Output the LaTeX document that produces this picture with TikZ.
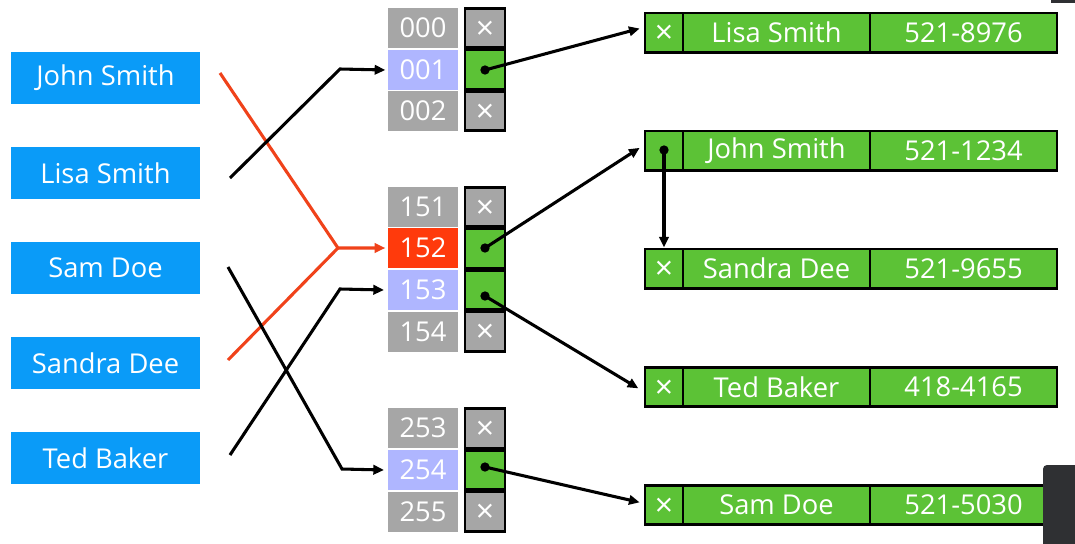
\documentclass[tikz,border=0pt]{standalone}
\usepackage{fontspec}
\setmainfont{Open Sans}
\usetikzlibrary{arrows.meta}
\definecolor{keyblue}{HTML}{0A9BF8}
\definecolor{idxgray}{HTML}{A6A6A6}
\definecolor{idxlav}{HTML}{AFB6FF}
\definecolor{idxred}{HTML}{FF3A0C}
\definecolor{recgreen}{HTML}{5CC236}
\definecolor{redline}{HTML}{F0421A}
\definecolor{artifact}{HTML}{2F3033}
\newcommand\crossmark{\raisebox{-0.35em}[0pt][0pt]{×}}
\begin{document}
\begin{tikzpicture}[x=0.75pt,y=-0.75pt,
  every node/.style={inner sep=0pt,outer sep=0pt,text=white,font=\fontsize{20.5}{24}\selectfont},
  keybox/.style={fill=keyblue,minimum width=141.75pt,minimum height=39pt},
  idxcell/.style={fill=idxgray,minimum width=52.5pt,minimum height=30pt},
  ptrcell/.style={draw=black,line width=2.2pt,fill=idxgray,minimum width=30pt,minimum height=29.5pt,font=\fontsize{24}{26}\selectfont},
  ptrfull/.style={ptrcell,fill=recgreen},
  reccell/.style={draw=black,line width=2pt,fill=recgreen,minimum height=29.5pt},
  xcell/.style={reccell,minimum width=28.5pt,font=\fontsize{24}{26}\selectfont},
  namecell/.style={reccell,minimum width=140.25pt},
  link/.style={line width=2.3pt,draw=black},
  redlink/.style={line width=2.3pt,draw=redline},
  tip/.style={-{Triangle[length=8pt,width=7pt]}},
  dot/.style={circle,fill=black,minimum size=7pt}
]
\path[use as bounding box,fill=white] (0,0) rectangle (1075,543);

% keys
\node[keybox] (kjohn) at (105.5,78) {John Smith};
\node[keybox] (klisa) at (105.5,173) {Lisa Smith};
\node[keybox] (ksam) at (105.5,268) {Sam Doe};
\node[keybox] (ksandra) at (105.5,363) {Sandra Dee};
\node[keybox] (kted) at (105.5,458) {Ted Baker};

% index cells
\node[idxcell] (i000) at (423,28) {000};
\node[idxcell,fill=idxlav] (i001) at (423,70) {001};
\node[idxcell] (i002) at (423,111) {002};
\node[idxcell] (i151) at (423,206.5) {151};
\node[idxcell,fill=idxred] (i152) at (423,248) {152};
\node[idxcell,fill=idxlav] (i153) at (423,290) {153};
\node[idxcell] (i154) at (423,331.5) {154};
\node[idxcell] (i253) at (423,428) {253};
\node[idxcell,fill=idxlav] (i254) at (423,470) {254};
\node[idxcell] (i255) at (423,512) {255};

% pointer cells
\node[ptrcell] (p000) at (485,28) {\crossmark};
\node[ptrfull] (p001) at (485,69.5) {};
\node[ptrcell] (p002) at (485,111) {\crossmark};
\node[ptrcell] (p151) at (485,207) {\crossmark};
\node[ptrfull] (p152) at (485,248.5) {};
\node[ptrfull] (p153) at (485,290) {};
\node[ptrcell] (p154) at (485,331.5) {\crossmark};
\node[ptrcell] (p253) at (485,428.5) {\crossmark};
\node[ptrfull] (p254) at (485,470) {};
\node[ptrcell] (p255) at (485,511.5) {\crossmark};

% records
\node[xcell] (rlisa) at (664,32.5) {\crossmark};
\node[namecell] (rlisan) at (776.5,32.5) {Lisa Smith};
\node[namecell] (rlisap) at (963.5,32.5) {521-8976};
\node[xcell] (rjohn) at (664,150.5) {};
\node[namecell] (rjohnn) at (776.5,150.5) {John Smith};
\node[namecell] (rjohnp) at (963.5,150.5) {521-1234};
\node[xcell] (rsandra) at (664,268.5) {\crossmark};
\node[namecell] (rsandran) at (776.5,268.5) {Sandra Dee};
\node[namecell] (rsandrap) at (963.5,268.5) {521-9655};
\node[xcell] (rted) at (664,387) {\crossmark};
\node[namecell] (rtedn) at (776.5,387) {Ted Baker};
\node[namecell] (rtedp) at (963.5,387) {418-4165};
\node[xcell] (rsam) at (664,505) {\crossmark};
\node[namecell] (rsamn) at (776.5,505) {Sam Doe};
\node[namecell] (rsamp) at (963.5,505) {521-5030};

% dots
\node[dot] (d001) at (485,70) {};
\node[dot] (d152) at (485,248) {};
\node[dot] (d153) at (485,296) {};
\node[dot] (d254) at (485,467) {};
\node[dot] (djohn) at (664,150) {};

% hash connectors
\coordinate (slisa) at (230,178);
\coordinate (blisa) at (340,69);
\coordinate (sjohn) at (220,73);
\coordinate (b152) at (338,248);
\coordinate (ssandra) at (228,360);
\coordinate (ssam) at (228,267);
\coordinate (bsam) at (342,469);
\coordinate (sted) at (230,455);
\coordinate (bted) at (340,289);

\draw[redlink,tip] (sjohn) -- (b152) -- ([xshift=-2pt]i152.west);
\draw[redlink] (ssandra) -- (b152);
\draw[link,tip] (slisa) -- (blisa) -- ([xshift=-2pt]i001.west);
\draw[link,tip] (ssam) -- (bsam) -- ([xshift=-3pt]i254.west);
\draw[link,tip] (sted) -- (bted) -- ([xshift=-3pt]i153.west);

% pointer connectors
\draw[link,tip] (d001.center) -- ([xshift=-4pt,yshift=3pt]rlisa.west);
\draw[link,tip] (d152.center) -- ([xshift=-4pt,yshift=2pt]rjohn.west);
\draw[link,tip] (d153.center) -- ([xshift=-5pt,yshift=-1pt]rted.west);
\draw[link,tip] (d254.center) -- ([xshift=-4pt,yshift=2pt]rsam.west);
\draw[link,tip] (djohn.center) -- ([yshift=1pt]rsandra.north);

% screen overlay
\fill[artifact,rounded corners=3pt] (1043,465) rectangle (1090,560);
\fill[artifact] (1051,-5) rectangle (1090,3);
\end{tikzpicture}
\end{document}
